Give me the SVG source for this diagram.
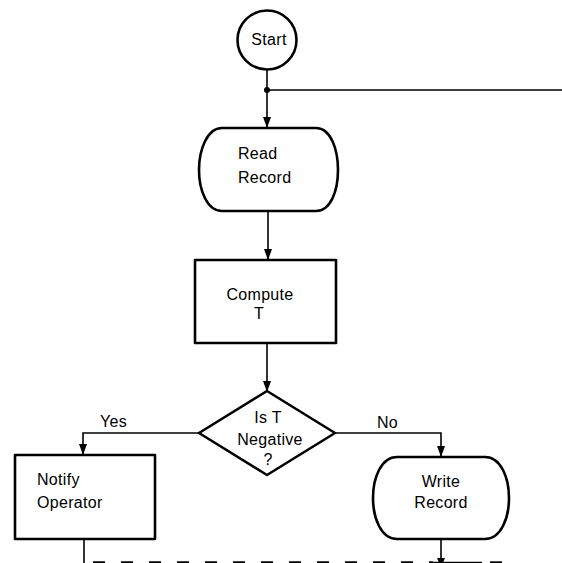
<svg xmlns="http://www.w3.org/2000/svg" width="562" height="563" viewBox="0 0 562 563">
  <defs>
    <marker id="arrow" markerUnits="userSpaceOnUse" markerWidth="12" markerHeight="10" refX="10" refY="4" orient="auto">
      <path d="M0,0 L11,4 L0,8 Z" fill="#000"/>
    </marker>
  </defs>
  <style>
    .shape { fill: #fff; stroke: #000; stroke-width: 2.6; stroke-linejoin: round; }
    .conn { fill: none; stroke: #000; stroke-width: 1.6; }
    .dash { fill: none; stroke: #000; stroke-width: 2.4; stroke-dasharray: 12 16; }
    text { font-family: "Liberation Sans", Arial, sans-serif; font-size: 16px; fill: #000; letter-spacing: 0.3px; }
    .mid { text-anchor: middle; }
  </style>
  <rect width="562" height="563" fill="#fff"/>

  <!-- flow lines -->
  <g id="connectors">
    <line class="conn" x1="267" y1="70" x2="267" y2="127" marker-end="url(#arrow)"/>
    <circle cx="267" cy="90" r="3" fill="#000"/>
    <line class="conn" x1="267" y1="90" x2="562" y2="90"/>
    <line class="conn" x1="268" y1="211" x2="268" y2="259" marker-end="url(#arrow)"/>
    <line class="conn" x1="267" y1="343" x2="267" y2="391" marker-end="url(#arrow)"/>
    <polyline class="conn" points="199,433 83,433 83,454" marker-end="url(#arrow)"/>
    <polyline class="conn" points="335,433 441,433 441,456" marker-end="url(#arrow)"/>
    <line class="conn" x1="84" y1="539" x2="84" y2="563"/>
    <line class="conn" x1="441" y1="539" x2="441" y2="563"/>
    <path d="M437,558 L445,558 L441,567 Z" fill="#000"/>
    <line class="dash" x1="93" y1="562.5" x2="433" y2="562.5"/>
    <line class="conn" x1="433" y1="562.5" x2="482" y2="562.5" stroke-width="2.4"/>
    <line class="dash" x1="490" y1="562.5" x2="512" y2="562.5" stroke="#bbb"/>
  </g>

  <!-- start terminal -->
  <g id="start">
    <circle class="shape" cx="267" cy="40" r="29.5"/>
    <text class="mid" x="269" y="45">Start</text>
  </g>

  <!-- input: read record -->
  <g id="read-record">
    <path class="shape" d="M222,128 H316 C331,128 338,150 338,170 C338,190 331,211 316,211 H222 C207,211 199,190 199,170 C199,150 207,128 222,128 Z"/>
    <text x="238" y="159">Read</text>
    <text x="238" y="183">Record</text>
  </g>

  <!-- process: compute T -->
  <g id="compute-t">
    <rect class="shape" x="195" y="260" width="141" height="83"/>
    <text class="mid" x="260" y="300">Compute</text>
    <text class="mid" x="259" y="319">T</text>
  </g>

  <!-- decision -->
  <g id="is-t-negative">
    <polygon class="shape" points="267,391 335,433 267,475 199,433"/>
    <text class="mid" x="268" y="423">Is T</text>
    <text class="mid" x="270" y="445" letter-spacing="1.4">Negative</text>
    <text class="mid" x="268" y="465">?</text>
  </g>

  <!-- branch labels -->
  <g id="labels">
    <text x="100" y="427">Yes</text>
    <text x="377" y="428">No</text>
  </g>

  <!-- process: notify operator -->
  <g id="notify-operator">
    <rect class="shape" x="15" y="455" width="140" height="84"/>
    <text x="37" y="485">Notify</text>
    <text x="37" y="508">Operator</text>
  </g>

  <!-- output: write record -->
  <g id="write-record">
    <path class="shape" d="M397,457 H485 C501,457 509,478 509,498 C509,518 501,539 485,539 H397 C381,539 373,518 373,498 C373,478 381,457 397,457 Z"/>
    <text class="mid" x="441" y="487" letter-spacing="1">Write</text>
    <text class="mid" x="441" y="508">Record</text>
  </g>
</svg>
